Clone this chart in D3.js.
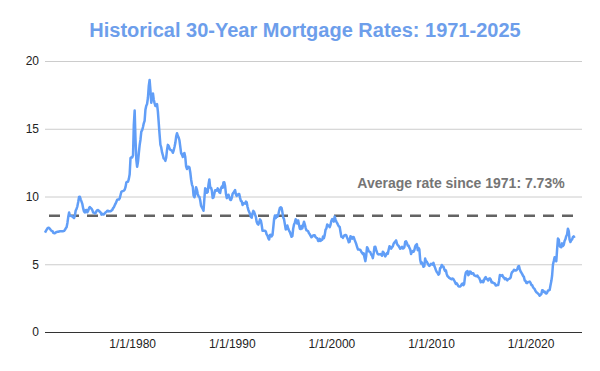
<!DOCTYPE html>
<html>
<head>
<meta charset="utf-8">
<script src="https://cdnjs.cloudflare.com/ajax/libs/d3/7.8.5/d3.min.js"></script>
<style>
  body { margin: 0; background: #fff; font-family: "Liberation Sans", Arial, sans-serif; }
  svg { display: block; }
</style>
</head>
<body>
<div class="graph"></div>
<script>
const width = 600;
const height = 371;
const padding = { left: 45, top: 61, right: 18, bottom: 39 };

const titleText = "Historical 30-Year Mortgage Rates: 1971-2025";
const noteText = "Average rate since 1971: 7.73%";

// first month of the series, one value per month after it
const firstMonth = new Date(1971, 3, 1);
const rates = [
  /* 1971 */ 7.33, 7.44, 7.55, 7.65, 7.70, 7.68, 7.60, 7.52, 7.46,
  /* 1972 */ 7.44, 7.32, 7.29, 7.29, 7.37, 7.37, 7.40, 7.40, 7.42, 7.43, 7.44, 7.44,
  /* 1973 */ 7.44, 7.44, 7.46, 7.54, 7.65, 7.73, 8.05, 8.50, 8.82, 8.58, 8.58, 8.54,
  /* 1974 */ 8.54, 8.46, 8.41, 8.58, 8.97, 9.09, 9.28, 9.59, 9.96, 9.98, 9.79, 9.62,
  /* 1975 */ 9.43, 9.10, 8.89, 8.82, 8.99, 9.01, 8.84, 8.94, 9.13, 9.22, 9.15, 9.10,
  /* 1976 */ 8.99, 8.82, 8.81, 8.75, 8.79, 8.92, 8.99, 9.00, 8.94, 8.87, 8.82, 8.66,
  /* 1977 */ 8.72, 8.67, 8.69, 8.75, 8.83, 8.86, 8.94, 8.94, 8.90, 8.92, 8.92, 8.96,
  /* 1978 */ 9.01, 9.14, 9.21, 9.35, 9.47, 9.62, 9.77, 9.78, 9.77, 9.86, 10.11, 10.35,
  /* 1979 */ 10.39, 10.41, 10.43, 10.50, 10.69, 11.04, 11.09, 11.09, 11.30, 11.64, 12.83, 12.90,
  /* 1980 */ 12.88, 13.04, 15.28, 16.35, 14.26, 12.71, 12.19, 12.56, 13.20, 13.79, 14.21, 14.79,
  /* 1981 */ 14.90, 15.13, 15.40, 15.58, 16.40, 16.70, 16.83, 17.29, 18.16, 18.60, 17.83, 16.92,
  /* 1982 */ 17.40, 17.60, 17.16, 16.89, 16.68, 16.70, 16.82, 16.27, 15.43, 14.61, 13.82, 13.62,
  /* 1983 */ 13.25, 13.04, 12.80, 12.78, 12.63, 12.87, 13.42, 13.81, 13.73, 13.54, 13.44, 13.42,
  /* 1984 */ 13.37, 13.23, 13.39, 13.65, 13.94, 14.42, 14.67, 14.47, 14.35, 14.13, 13.64, 13.18,
  /* 1985 */ 13.08, 12.92, 13.17, 13.20, 12.91, 12.22, 12.03, 12.19, 12.19, 12.14, 11.78, 11.26,
  /* 1986 */ 10.88, 10.71, 10.08, 9.94, 10.14, 10.68, 10.51, 10.20, 10.01, 9.98, 9.70, 9.32,
  /* 1987 */ 9.20, 9.08, 8.95, 9.83, 10.60, 10.54, 10.28, 10.33, 10.89, 11.26, 10.65, 10.65,
  /* 1988 */ 10.43, 9.89, 9.93, 10.20, 10.46, 10.46, 10.43, 10.60, 10.48, 10.30, 10.27, 10.61,
  /* 1989 */ 10.73, 10.65, 11.03, 11.05, 10.77, 10.20, 9.88, 9.99, 10.13, 9.95, 9.77, 9.74,
  /* 1990 */ 9.90, 10.20, 10.27, 10.37, 10.48, 10.16, 10.04, 10.10, 10.18, 10.18, 9.90, 9.67,
  /* 1991 */ 9.64, 9.37, 9.50, 9.49, 9.47, 9.62, 9.58, 9.24, 9.01, 8.86, 8.71, 8.50,
  /* 1992 */ 8.43, 8.76, 8.94, 8.85, 8.67, 8.51, 8.13, 7.98, 7.92, 8.09, 8.31, 8.22,
  /* 1993 */ 7.91, 7.47, 7.47, 7.47, 7.47, 7.42, 7.21, 7.11, 6.92, 6.83, 7.16, 7.17,
  /* 1994 */ 7.06, 7.15, 7.68, 8.32, 8.60, 8.40, 8.61, 8.51, 8.64, 8.93, 9.17, 9.20,
  /* 1995 */ 9.15, 8.83, 8.46, 8.32, 7.96, 7.57, 7.61, 7.86, 7.64, 7.48, 7.38, 7.20,
  /* 1996 */ 7.03, 7.08, 7.62, 7.93, 8.07, 8.32, 8.25, 8.00, 8.23, 7.92, 7.62, 7.60,
  /* 1997 */ 7.82, 7.65, 7.90, 8.14, 7.94, 7.69, 7.50, 7.48, 7.43, 7.29, 7.21, 7.10,
  /* 1998 */ 6.99, 7.04, 7.13, 7.14, 7.14, 7.00, 6.95, 6.92, 6.72, 6.71, 6.87, 6.72,
  /* 1999 */ 6.79, 6.81, 7.04, 6.92, 7.15, 7.55, 7.63, 7.94, 7.82, 7.85, 7.74, 7.91,
  /* 2000 */ 8.21, 8.33, 8.24, 8.15, 8.52, 8.29, 8.15, 8.03, 7.91, 7.80, 7.75, 7.38,
  /* 2001 */ 7.03, 7.05, 6.95, 7.08, 7.15, 7.16, 7.13, 6.95, 6.82, 6.62, 6.66, 7.07,
  /* 2002 */ 7.00, 6.89, 7.01, 6.99, 6.81, 6.65, 6.49, 6.29, 6.09, 6.11, 6.07, 6.05,
  /* 2003 */ 5.92, 5.84, 5.75, 5.81, 5.48, 5.23, 5.63, 6.26, 6.15, 5.95, 5.93, 5.88,
  /* 2004 */ 5.71, 5.64, 5.45, 5.83, 6.27, 6.29, 6.06, 5.87, 5.75, 5.72, 5.73, 5.75,
  /* 2005 */ 5.71, 5.63, 5.93, 5.86, 5.72, 5.58, 5.70, 5.82, 5.77, 6.07, 6.33, 6.27,
  /* 2006 */ 6.15, 6.25, 6.32, 6.51, 6.60, 6.68, 6.76, 6.52, 6.40, 6.36, 6.24, 6.14,
  /* 2007 */ 6.22, 6.29, 6.16, 6.18, 6.26, 6.66, 6.70, 6.57, 6.38, 6.38, 6.21, 6.10,
  /* 2008 */ 5.76, 5.92, 5.97, 5.92, 6.04, 6.32, 6.43, 6.48, 6.04, 6.20, 6.09, 5.33,
  /* 2009 */ 5.06, 5.13, 5.00, 4.81, 4.86, 5.42, 5.22, 5.19, 5.06, 4.95, 4.88, 4.93,
  /* 2010 */ 5.03, 4.99, 4.97, 5.10, 4.89, 4.74, 4.56, 4.43, 4.35, 4.23, 4.30, 4.71,
  /* 2011 */ 4.76, 4.95, 4.84, 4.84, 4.64, 4.51, 4.55, 4.27, 4.11, 4.07, 3.99, 3.96,
  /* 2012 */ 3.92, 3.89, 3.95, 3.91, 3.80, 3.68, 3.55, 3.60, 3.50, 3.38, 3.35, 3.35,
  /* 2013 */ 3.41, 3.53, 3.57, 3.45, 3.54, 4.07, 4.37, 4.46, 4.49, 4.19, 4.26, 4.46,
  /* 2014 */ 4.43, 4.30, 4.34, 4.34, 4.19, 4.16, 4.13, 4.12, 4.16, 4.04, 4.00, 3.86,
  /* 2015 */ 3.67, 3.71, 3.77, 3.67, 3.84, 3.98, 4.05, 3.91, 3.89, 3.80, 3.94, 3.96,
  /* 2016 */ 3.87, 3.66, 3.69, 3.61, 3.60, 3.57, 3.44, 3.44, 3.46, 3.47, 3.77, 4.20,
  /* 2017 */ 4.15, 4.17, 4.20, 4.05, 4.01, 3.90, 3.97, 3.88, 3.81, 3.90, 3.92, 3.95,
  /* 2018 */ 4.03, 4.33, 4.44, 4.47, 4.59, 4.57, 4.53, 4.55, 4.63, 4.83, 4.87, 4.64,
  /* 2019 */ 4.46, 4.37, 4.27, 4.14, 4.07, 3.80, 3.77, 3.62, 3.61, 3.69, 3.70, 3.72,
  /* 2020 */ 3.62, 3.47, 3.45, 3.31, 3.23, 3.16, 3.02, 2.94, 2.89, 2.83, 2.77, 2.68,
  /* 2021 */ 2.74, 2.81, 3.08, 3.06, 2.96, 2.98, 2.87, 2.84, 2.90, 3.07, 3.07, 3.10,
  /* 2022 */ 3.45, 3.76, 4.17, 4.98, 5.23, 5.52, 5.41, 5.22, 6.11, 6.90, 6.81, 6.36,
  /* 2023 */ 6.27, 6.26, 6.54, 6.34, 6.43, 6.71, 6.84, 7.07, 7.20, 7.62, 7.44, 6.82,
  /* 2024 */ 6.64, 6.78, 6.82, 7.00, 7.06, 6.95
];

// the dashed reference line sits here in the picture
const avgLineValue = 8.58;

const yTicks = [0, 5, 10, 15, 20];
const xTickYears = [1980, 1990, 2000, 2010, 2020];
const axisEnd = new Date(2025, 2, 1);

let data = rates.map((r, i) => ({ date: d3.timeMonth.offset(firstMonth, i), rate: r }));

let svg = d3.select('.graph').append('svg')
  .attr('width', width)
  .attr('height', height);

svg.append('rect')
  .attr('width', width)
  .attr('height', height)
  .attr('fill', '#fff');

let x = d3.scaleTime()
  .domain([firstMonth, axisEnd])
  .range([padding.left, width - padding.right]);

let y = d3.scaleLinear()
  .domain([0, 20])
  .range([height - padding.bottom, padding.top]);

/* gridlines + y labels */
let yAxis = svg.append('g')
  .attr('transform', 'translate(' + padding.left + ',0)')
  .call(d3.axisLeft(y).tickValues(yTicks).tickSize(-(width - padding.left - padding.right)).tickPadding(6));

yAxis.select('.domain').remove();
yAxis.selectAll('line')
  .attr('stroke', (d) => d === 0 ? '#333' : '#ccc')
  .attr('stroke-width', 1);
yAxis.selectAll('text')
  .attr('fill', '#222')
  .style('font-size', '12px')
  .style('font-family', '"Liberation Sans", Arial, sans-serif');

/* x labels */
let xAxis = svg.append('g')
  .attr('transform', 'translate(0,' + y(0) + ')')
  .call(d3.axisBottom(x)
    .tickValues(xTickYears.map((yr) => new Date(yr, 0, 1)))
    .tickFormat(d3.timeFormat('%-m/%-d/%Y'))
    .tickSize(0)
    .tickPadding(7));

xAxis.select('.domain').remove();
xAxis.selectAll('text')
  .attr('fill', '#222')
  .style('font-size', '12px')
  .style('font-family', '"Liberation Sans", Arial, sans-serif');

/* average line */
svg.append('line')
  .attr('x1', x(firstMonth))
  .attr('x2', x(data[data.length - 1].date))
  .attr('y1', y(avgLineValue))
  .attr('y2', y(avgLineValue))
  .attr('stroke', '#636363')
  .attr('stroke-width', 2.5)
  .attr('stroke-dasharray', '11,8')
  .attr('stroke-dashoffset', 15);

/* rate line */
let line = d3.line()
  .x((d) => x(d.date))
  .y((d) => y(d.rate));

svg.append('path')
  .datum(data)
  .attr('d', line)
  .attr('fill', 'none')
  .attr('stroke', '#619ef7')
  .attr('stroke-width', 2.5)
  .attr('stroke-linejoin', 'round');

/* title + note */
svg.append('text')
  .attr('x', 305)
  .attr('y', 37)
  .attr('text-anchor', 'middle')
  .attr('fill', '#6d9eeb')
  .style('font-size', '20px')
  .style('font-weight', 'bold')
  .text(titleText);

svg.append('text')
  .attr('x', 461)
  .attr('y', 188)
  .attr('text-anchor', 'middle')
  .attr('fill', '#757575')
  .style('font-size', '14px')
  .style('font-weight', 'bold')
  .text(noteText);
</script>
</body>
</html>
